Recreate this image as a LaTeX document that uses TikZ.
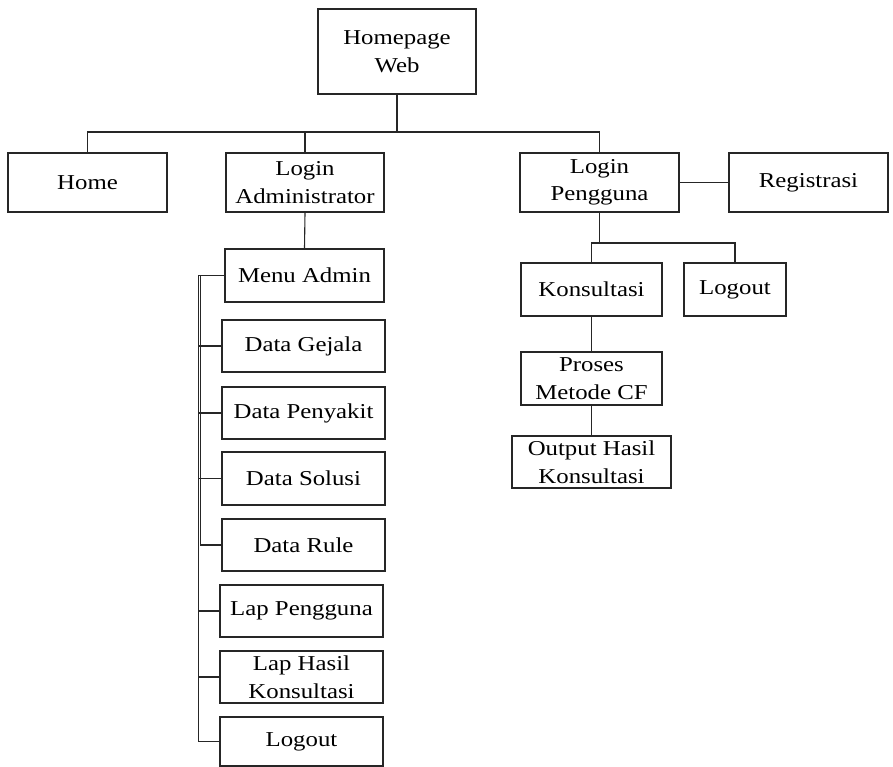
\documentclass[tikz,border=0pt]{standalone}
\usepackage{fontspec}
\setmainfont{Liberation Serif}[FakeStretch=1.17]
\begin{document}
\begin{tikzpicture}[x=1pt,y=-1pt,
  box/.style={draw=black!85,line width=1.1pt,rectangle,inner sep=0pt,align=center,
    font=\fontsize{21.2}{27.5}\selectfont},
  conn/.style={draw=black!85,line width=1.1pt}]
\useasboundingbox (0,0) rectangle (893,767);
% nodes
\node[box,minimum width=158,minimum height=85] (hp) at (397,51.5) {Homepage\\Web};
\node[box,minimum width=159,minimum height=59] (home) at (87.5,182.5) {Home};
\node[box,minimum width=158,minimum height=59] (ladmin) at (305,182.5) {Login\\Administrator};
\node[box,minimum width=159,minimum height=59] (lpeng) at (599.5,182.5) {Login\\Pengguna};
\node[box,minimum width=159,minimum height=59] (reg) at (808.5,182.5) {Registrasi};
\node[box,minimum width=159,minimum height=53] (menu) at (304.5,275.5) {Menu Admin};
\node[box,minimum width=163,minimum height=52] (gejala) at (303.5,346) {Data Gejala};
\node[box,minimum width=163,minimum height=52] (penyakit) at (303.5,413) {Data Penyakit};
\node[box,minimum width=163,minimum height=53] (solusi) at (303.5,478.5) {Data Solusi};
\node[box,minimum width=163,minimum height=52] (rule) at (303.5,545) {Data Rule};
\node[box,minimum width=163,minimum height=52] (lappeng) at (301.5,611) {Lap Pengguna};
\node[box,minimum width=163,minimum height=52] (laphasil) at (301.5,677) {Lap Hasil\\Konsultasi};
\node[box,minimum width=163,minimum height=49] (logouta) at (301.5,741.5) {Logout};
\node[box,minimum width=141,minimum height=53] (kons) at (591.5,289.5) {Konsultasi};
\node[box,minimum width=102,minimum height=53] (logoutb) at (735,289.5) {Logout};
\node[box,minimum width=141,minimum height=53] (proses) at (591.5,378.5) {Proses\\Metode CF};
\node[box,minimum width=159,minimum height=52] (output) at (591.5,462) {Output Hasil\\Konsultasi};
% helper coordinates
\coordinate (bus) at (0,132);
\coordinate (rbus) at (0,243);
\coordinate (spine) at (198.5,0);
\coordinate (spineb) at (200.3,0);
% connectors
\draw[conn,line width=1.6pt] (hp.south) -- (hp.south |- bus);
\draw[conn] (home.north) |- (lpeng.north |- bus) -- (lpeng.north);
\draw[conn] (ladmin.north) -- (ladmin.north |- bus);
\draw[conn] (ladmin.south) -- (menu.north);
\draw[conn] (lpeng.east) -- (reg.west);
\draw[conn] (menu.west) -- (menu.west -| spine) -- (logouta.west -| spine) -- (logouta.west);
\draw[conn] (menu.west -| spineb) -- (rule.west -| spineb) -- (rule.west);
\draw[conn] (gejala.west -| spine) -- (gejala.west);
\draw[conn] (penyakit.west -| spine) -- (penyakit.west);
\draw[conn] (solusi.west -| spine) -- (solusi.west);
\draw[conn] (lappeng.west -| spine) -- (lappeng.west);
\draw[conn] (laphasil.west -| spine) -- (laphasil.west);
\draw[conn] (lpeng.south) -- (lpeng.south |- rbus);
\draw[conn] (kons.north) |- (logoutb.north |- rbus) -- (logoutb.north);
\draw[conn] (kons.south) -- (proses.north);
\draw[conn] (proses.south) -- (output.north);
\end{tikzpicture}
\end{document}
